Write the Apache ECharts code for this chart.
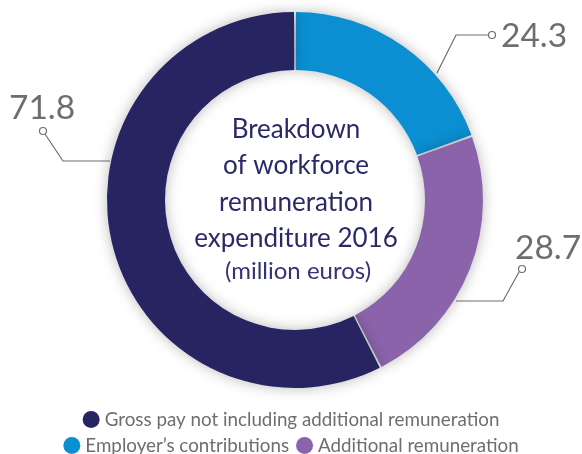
<!DOCTYPE html>
<html>
<head>
<meta charset="utf-8">
<script src="https://cdn.jsdelivr.net/npm/echarts@6/dist/echarts.min.js"></script>
<style>
html, body { margin: 0; background: #fff; }
#chart { width: 582px; height: 454px; }
</style>
</head>
<body>
<div id="chart"></div>
<script>
// data, in clockwise order from 12 o'clock
const names = ['Employer’s contributions', 'Additional remuneration', 'Gross pay not including additional remuneration']
const values = [24.3, 28.7, 71.8]
const colors = ['#0b8fd2', '#8b63ab', '#272462']
const titleLines = ['Breakdown', 'of workforce', 'remuneration', 'expenditure 2016']
const unitText = '(million euros)'
const legendRow1 = [names[2]]
const legendRow2 = [names[0], names[1]]

const grey = '#6d6e71'
const font = 'Lato'

// value label placement: text anchor, leader line (ring -> bend -> dot), dot centre
const labelSpots = [
  { x: 501, y: 36, line: [[437, 73], [456, 35], [488, 35]], dot: [492, 35] },
  { x: 515, y: 248, line: [[456, 301], [503, 301], [519, 272]], dot: [522, 269] },
  { x: 9, y: 108, line: [[110, 161], [63, 161], [45, 134]], dot: [43, 131] }
]

const chart = echarts.init(document.getElementById('chart'))

const legendBase = {
  left: 'center',
  padding: 0,
  icon: 'circle',
  itemWidth: 17,
  itemHeight: 17,
  itemGap: 7,
  selectedMode: false,
  textStyle: { color: grey, fontSize: 18.8, fontFamily: font }
}

chart.setOption({
  animation: false,
  color: colors,
  legend: [
    Object.assign({}, legendBase, { top: 410, data: legendRow1 }),
    Object.assign({}, legendBase, { top: 436, data: legendRow2 })
  ],
  graphic: [
    {
      type: 'text',
      x: 296,
      y: 184,
      z: 10,
      style: {
        text: titleLines.join('\n'),
        fill: '#2b2968',
        fontSize: 26,
        fontFamily: font,
        lineHeight: 36.5,
        textAlign: 'center',
        textVerticalAlign: 'middle'
      }
    },
    {
      type: 'text',
      x: 298,
      y: 271,
      z: 10,
      style: {
        text: unitText,
        fill: '#35337a',
        fontSize: 24,
        fontFamily: font,
        textAlign: 'center',
        textVerticalAlign: 'middle'
      }
    }
  ].concat(labelSpots.map(s => ({
    type: 'circle',
    z: 20,
    shape: { cx: s.dot[0], cy: s.dot[1], r: 3.5 },
    style: { fill: '#fff', stroke: grey, lineWidth: 1.2 }
  }))),
  series: [
    {
      type: 'pie',
      center: [295, 200],
      radius: [130, 188],
      startAngle: 90,
      clockwise: true,
      padAngle: 0.6,
      emphasis: { disabled: true },
      itemStyle: {
        shadowBlur: 14,
        shadowColor: 'rgba(0, 0, 0, 0.28)'
      },
      label: {
        show: true,
        position: 'outside',
        formatter: '{c}',
        color: grey,
        fontSize: 33.5,
        fontFamily: font,
        width: 90,
        overflow: 'none'
      },
      labelLine: {
        show: true,
        lineStyle: { color: grey, width: 1.2 }
      },
      labelLayout: function (params) {
        const s = labelSpots[params.dataIndex]
        return {
          x: s.x,
          y: s.y,
          align: 'left',
          verticalAlign: 'middle',
          labelLinePoints: s.line
        }
      },
      data: names.map((n, i) => ({ name: n, value: values[i] }))
    }
  ]
})
</script>
</body>
</html>
